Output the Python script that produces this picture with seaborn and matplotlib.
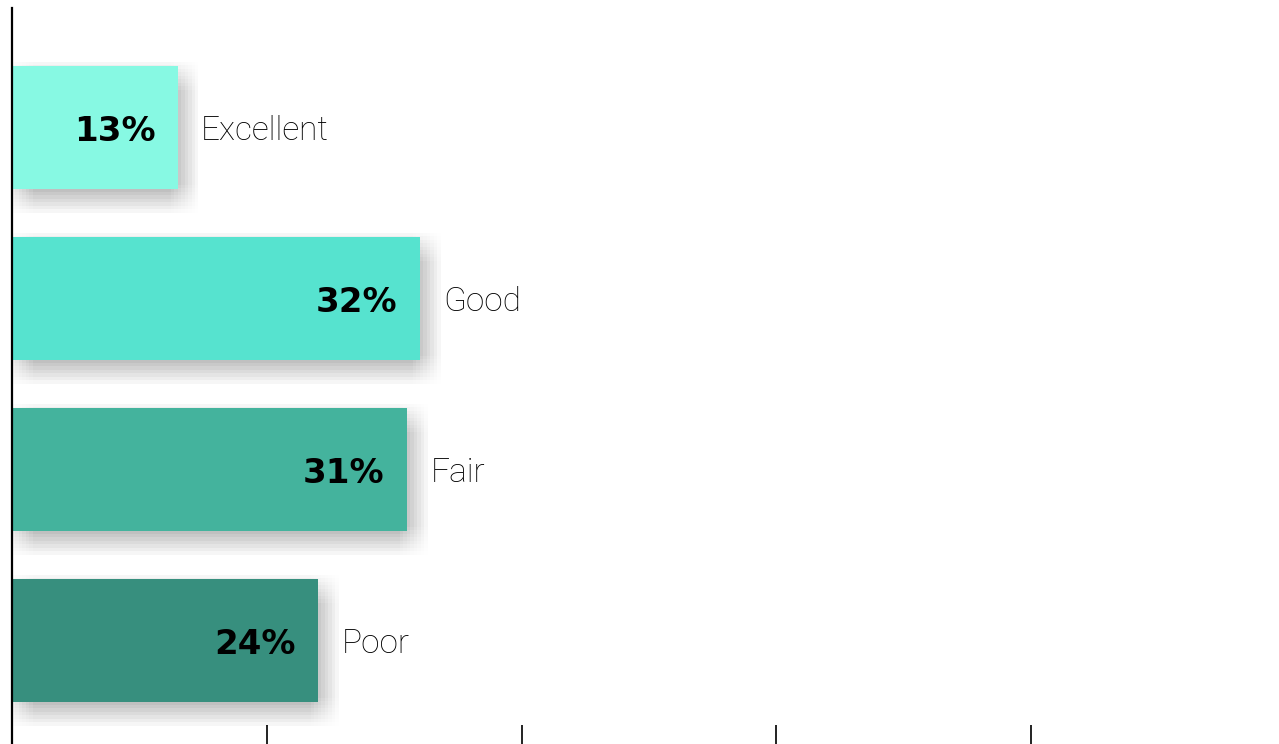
import matplotlib
matplotlib.use("Agg")
import matplotlib.pyplot as plt
import matplotlib.patheffects as pe
import seaborn as sns
import pandas as pd

categories = ["Excellent", "Good", "Fair", "Poor"]
shares = [13, 32, 31, 24]
bar_colors = ["#87F9E3", "#56E3CF", "#44B39D", "#378F7E"]
x_ticks = [20, 40, 60, 80]

sns.set_theme(style="white")
plt.rcParams["font.family"] = ["Roboto", "DejaVu Sans"]

df = pd.DataFrame({"rating": categories, "share": shares})

W, H = 1279, 744
fig = plt.figure(figsize=(W / 100, H / 100), dpi=100)
ax = fig.add_axes([12 / W, 0, 1 - 12 / W, 1 - 8 / H])

sns.barplot(data=df, x="share", y="rating", hue="rating", palette=bar_colors,
            orient="h", width=0.72, saturation=1, legend=False, ax=ax,
            linewidth=0, edgecolor="none")

# soft drop shadow: a grid of faint offset copies approximates a blur
shadow = []
steps = [-10, -7.5, -5, -2.5, 0, 2.5, 5, 7.5, 10]
for dx in steps:
    for dy in steps:
        shadow.append(pe.SimplePatchShadow(offset=(5 + dx, -7 + dy),
                                           shadow_rgbFace="black", alpha=0.0028))
shadow.append(pe.Normal())
for bar in ax.patches:
    bar.set_path_effects(shadow)

for i, (name, val) in enumerate(zip(categories, shares)):
    ax.annotate(f"{val}%", xy=(val, i), xytext=(-16, -2.5), textcoords="offset points",
                ha="right", va="center", fontsize=24.5, fontweight="heavy",
                family=["DejaVu Sans"], color="black")
    ax.annotate(name, xy=(val, i), xytext=(17, -2.5), textcoords="offset points",
                ha="left", va="center", fontsize=24, fontweight="light", color="#000000")

ax.set_xlim(0, 99.45)
ax.set_ylim(3.605, -0.699)
ax.set_xticks(x_ticks)
ax.set_yticks([])
ax.tick_params(axis="x", direction="in", length=13.7, width=1.3, color="#111111",
               labelbottom=False, bottom=True)
ax.set_xlabel("")
ax.set_ylabel("")
for side in ["top", "right", "bottom"]:
    ax.spines[side].set_visible(False)
ax.spines["left"].set_color("black")
ax.spines["left"].set_linewidth(1.6)

fig.savefig("out.png", dpi=100, facecolor="white")
